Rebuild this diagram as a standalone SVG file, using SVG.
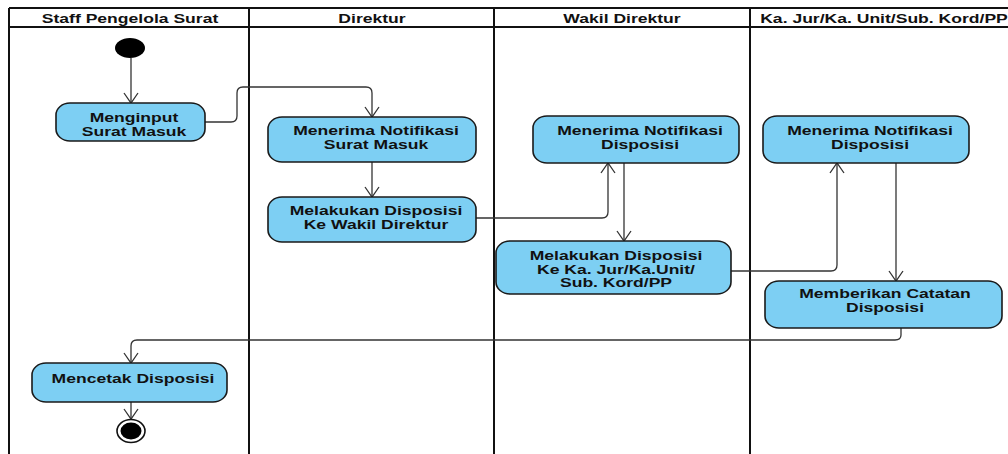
<svg xmlns="http://www.w3.org/2000/svg" width="1008" height="454" viewBox="0 0 1008 454">
<style>
.lane{stroke:#111;stroke-width:2;fill:none}
.node{fill:#7DCFF3;stroke:#1a1a1a;stroke-width:1.6}
.t{font-family:"Liberation Sans",Arial,sans-serif;font-weight:bold;font-size:13px;fill:#111;text-anchor:middle}
.c{fill:none;stroke:#333;stroke-width:1.3;marker-end:url(#arr)}
</style>
<defs>
<marker id="arr" markerUnits="userSpaceOnUse" markerWidth="20" markerHeight="20" viewBox="-12 -10 14 20" refX="0" refY="0" orient="auto">
<path d="M-10,-7 L0,0 L-10,7" fill="none" stroke="#333" stroke-width="1.3"/>
</marker>
</defs>
<rect width="1008" height="454" fill="#fff"/>
<g id="lanes">
<path class="lane" d="M9,8 H1008 M9,27 H1008 M9,8 V454 M249,8 V454 M494,8 V454 M750,8 V454"/>
<text class="t" transform="translate(130,23) scale(1.35,1)">Staff Pengelola Surat</text>
<text class="t" transform="translate(372,23) scale(1.35,1)">Direktur</text>
<text class="t" transform="translate(622,23) scale(1.35,1)">Wakil Direktur</text>
<text class="t" transform="translate(884,23) scale(1.35,1)">Ka. Jur/Ka. Unit/Sub. Kord/PP</text>
</g>
<g id="connectors">
<path class="c" d="M131,58 V103"/>
<path class="c" d="M205,122 H231 Q237,122 237,116 V93 Q237,87 243,87 H366 Q372,87 372,93 V117"/>
<path class="c" d="M372,162 V197"/>
<path class="c" d="M476,218 H602 Q608,218 608,212 V163"/>
<path class="c" d="M624,163 V241"/>
<path class="c" d="M731,271 H831 Q837,271 837,265 V163"/>
<path class="c" d="M896,163 V281"/>
<path class="c" d="M901,328 V335 Q901,340 895,340 H137 Q131,340 131,346 V363"/>
<path class="c" d="M131,402 V419"/>
</g>
<g id="start"><ellipse cx="130" cy="48" rx="15" ry="10" fill="#000"/></g>
<g id="menginput">
<rect class="node" x="56" y="103" width="149" height="38" rx="14" ry="12"/>
<text class="t" transform="translate(134,122) scale(1.35,1)">Menginput</text>
<text class="t" transform="translate(134,136) scale(1.35,1)">Surat Masuk</text>
</g>
<g id="menerima-surat">
<rect class="node" x="268" y="117" width="208" height="45" rx="14" ry="12"/>
<text class="t" transform="translate(376,135) scale(1.35,1)">Menerima Notifikasi</text>
<text class="t" transform="translate(376,149) scale(1.35,1)">Surat Masuk</text>
</g>
<g id="disposisi-wakil">
<rect class="node" x="268" y="197" width="208" height="45" rx="14" ry="12"/>
<text class="t" transform="translate(376,215) scale(1.35,1)">Melakukan Disposisi</text>
<text class="t" transform="translate(376,229) scale(1.35,1)">Ke Wakil Direktur</text>
</g>
<g id="menerima-wakil">
<rect class="node" x="533" y="116" width="206" height="47" rx="14" ry="12"/>
<text class="t" transform="translate(640,135) scale(1.35,1)">Menerima Notifikasi</text>
<text class="t" transform="translate(640,149) scale(1.35,1)">Disposisi</text>
</g>
<g id="disposisi-kajur">
<rect class="node" x="496" y="241" width="235" height="53" rx="14" ry="12"/>
<text class="t" transform="translate(616,260) scale(1.35,1)">Melakukan Disposisi</text>
<text class="t" transform="translate(616,273.5) scale(1.35,1)">Ke Ka. Jur/Ka.Unit/</text>
<text class="t" transform="translate(616,287) scale(1.35,1)">Sub. Kord/PP</text>
</g>
<g id="menerima-kajur">
<rect class="node" x="763" y="116" width="206" height="47" rx="14" ry="12"/>
<text class="t" transform="translate(870,135) scale(1.35,1)">Menerima Notifikasi</text>
<text class="t" transform="translate(870,149) scale(1.35,1)">Disposisi</text>
</g>
<g id="catatan">
<rect class="node" x="765" y="281" width="237" height="47" rx="14" ry="12"/>
<text class="t" transform="translate(885,298) scale(1.35,1)">Memberikan Catatan</text>
<text class="t" transform="translate(885,312) scale(1.35,1)">Disposisi</text>
</g>
<g id="mencetak">
<rect class="node" x="32" y="363" width="195" height="39" rx="14" ry="12"/>
<text class="t" transform="translate(133,383) scale(1.35,1)">Mencetak Disposisi</text>
</g>
<g id="end">
<ellipse cx="131" cy="431" rx="14" ry="11.5" fill="#fff" stroke="#111" stroke-width="1.6"/>
<ellipse cx="131" cy="431" rx="10.5" ry="8.5" fill="#000"/>
</g>
</svg>
